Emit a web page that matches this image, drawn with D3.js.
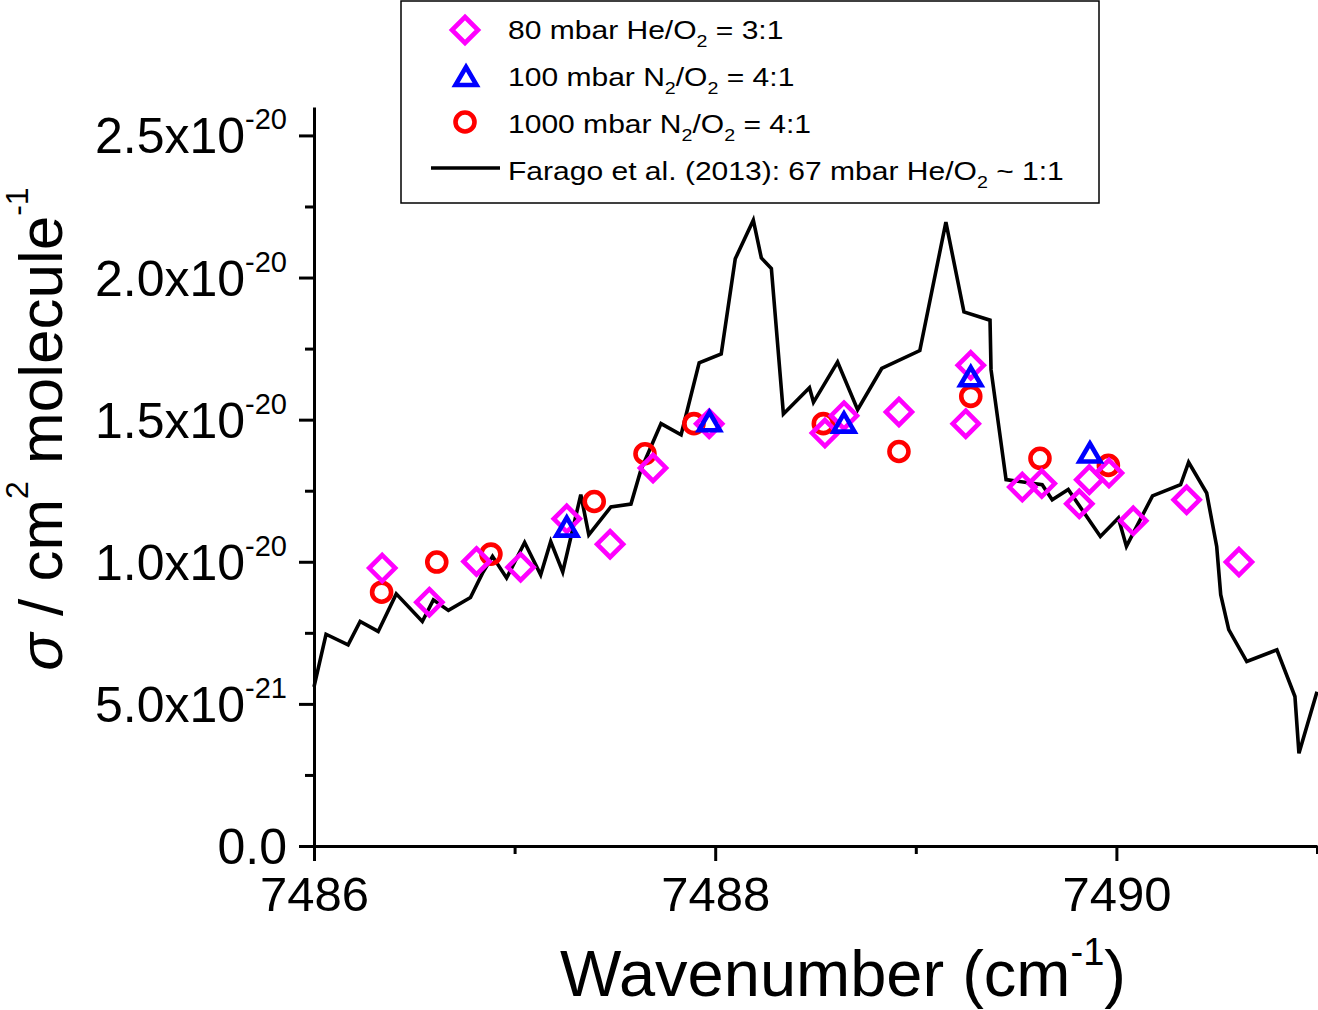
<!DOCTYPE html>
<html>
<head>
<meta charset="utf-8">
<script src="https://cdn.jsdelivr.net/npm/d3@7"></script>
<style>
  body { margin: 0; background: #fff; }
  svg { display: block; }
  text { font-family: Arial, "Liberation Sans", sans-serif; fill: #000; }
</style>
</head>
<body>
<svg id="chart" width="1318" height="1010"></svg>
<script>
// cross sections are given in units of 1e-20 cm2 molecule-1

// Farago et al. (2013), 67 mbar He/O2 ~ 1:1
const faragoWn = [7486.00, 7486.06, 7486.17, 7486.23, 7486.32, 7486.41, 7486.54, 7486.595, 7486.67, 7486.78,
  7486.84, 7486.89, 7486.96, 7487.05, 7487.13, 7487.18, 7487.24, 7487.33, 7487.37, 7487.48,
  7487.58, 7487.63, 7487.73, 7487.83, 7487.92, 7488.03, 7488.10, 7488.19, 7488.23, 7488.28,
  7488.34, 7488.47, 7488.49, 7488.61, 7488.71, 7488.83, 7489.02, 7489.15, 7489.24, 7489.37,
  7489.375, 7489.45, 7489.63, 7489.68, 7489.76, 7489.92, 7490.01, 7490.05, 7490.18, 7490.32,
  7490.36, 7490.45, 7490.50, 7490.52, 7490.56, 7490.65, 7490.80, 7490.89, 7490.91, 7491.00]
const faragoSigma = [0.56, 0.745, 0.708, 0.79, 0.755, 0.887, 0.79, 0.866, 0.829, 0.874,
  0.96, 1.019, 0.943, 1.068, 0.954, 1.071, 0.964, 1.236, 1.095, 1.193,
  1.203, 1.324, 1.486, 1.447, 1.70, 1.731, 2.066, 2.202, 2.069, 2.032,
  1.52, 1.612, 1.561, 1.703, 1.535, 1.68, 1.743, 2.195, 1.879, 1.85,
  1.676, 1.289, 1.271, 1.218, 1.254, 1.089, 1.154, 1.054, 1.232, 1.271,
  1.35, 1.242, 1.054, 0.884, 0.761, 0.649, 0.69, 0.526, 0.326, 0.543]

// 80 mbar He/O2 = 3:1
const heWn = [7486.34, 7486.575, 7486.81, 7487.03, 7487.26, 7487.476, 7487.69, 7487.97, 7488.547, 7488.642,
  7488.916, 7489.249, 7489.274, 7489.531, 7489.628, 7489.815, 7489.865, 7489.963, 7490.084, 7490.35, 7490.611]
const heSigma = [0.978, 0.858, 1.001, 0.981, 1.151, 1.062, 1.33, 1.486, 1.453, 1.514,
  1.527, 1.486, 1.691, 1.263, 1.275, 1.204, 1.289, 1.312, 1.144, 1.218, 0.999]

// 100 mbar N2/O2 = 4:1
const n2LowWn = [7487.26, 7487.971, 7488.642, 7489.274, 7489.868]
const n2LowSigma = [1.127, 1.498, 1.493, 1.656, 1.388]

// 1000 mbar N2/O2 = 4:1
const n2HighWn = [7486.337, 7486.612, 7486.882, 7487.397, 7487.65, 7487.894, 7488.539, 7488.916, 7489.274, 7489.619, 7489.96]
const n2HighSigma = [0.893, 0.999, 1.027, 1.212, 1.38, 1.486, 1.486, 1.388, 1.582, 1.364, 1.339]

const xTicksMajor = [7486, 7488, 7490]
const xTicksMinor = [7487, 7489, 7491]
const yTicksMajor = [0, 0.5, 1.0, 1.5, 2.0, 2.5]
const yTickMantissa = ["0.0", "5.0x10", "1.0x10", "1.5x10", "2.0x10", "2.5x10"]
const yTickExponent = ["", "-21", "-20", "-20", "-20", "-20"]
const yTicksMinor = [0.25, 0.75, 1.25, 1.75, 2.25]

const legendLabels = [
  [["80 mbar He/O", 0], ["2", 1], [" = 3:1", 0]],
  [["100 mbar N", 0], ["2", 1], ["/O", 0], ["2", 1], [" = 4:1", 0]],
  [["1000 mbar N", 0], ["2", 1], ["/O", 0], ["2", 1], [" = 4:1", 0]],
  [["Farago et al. (2013): 67 mbar He/O", 0], ["2", 1], [" ~ 1:1", 0]]
]

const MAGENTA = "#ff00ff", BLUE = "#0000ff", RED = "#ff0000"
const MARK_W = 4.6

const svg = d3.select("#chart")
svg.append("rect").attr("width", 1318).attr("height", 1010).attr("fill", "#fff")

const x = d3.scaleLinear().domain([7486, 7491]).range([314, 1317])
const y = d3.scaleLinear().domain([0, 2.6]).range([846, 107])

// marker shapes
const diamondPath = "M0,-13L13,0L0,13L-13,0Z"
const trianglePath = "M0,-8L10.5,10L-10.5,10Z"

function drawMarkers(g, xs, ys, kind, color) {
  xs.forEach((wn, i) => {
    const px = x(wn), py = y(ys[i])
    if (kind === "circle") {
      g.append("circle").attr("cx", px).attr("cy", py).attr("r", 9.5)
        .attr("fill", "none").attr("stroke", color).attr("stroke-width", MARK_W)
    } else {
      g.append("path").attr("d", kind === "diamond" ? diamondPath : trianglePath)
        .attr("transform", `translate(${px},${py})`)
        .attr("fill", "none").attr("stroke", color).attr("stroke-width", MARK_W)
    }
  })
}

// Farago line
const line = d3.line().x((d, i) => x(faragoWn[i])).y(d => y(d))
svg.append("path")
  .attr("d", line(faragoSigma))
  .attr("fill", "none").attr("stroke", "#000").attr("stroke-width", 3.6)
  .attr("stroke-linejoin", "miter")

const marks = svg.append("g")
drawMarkers(marks, n2HighWn, n2HighSigma, "circle", RED)
drawMarkers(marks, heWn, heSigma, "diamond", MAGENTA)
drawMarkers(marks, n2LowWn, n2LowSigma, "triangle", BLUE)

// x axis
const xAxis = svg.append("g").attr("transform", `translate(0,${y(0)})`)
xAxis.call(d3.axisBottom(x).tickValues(xTicksMajor).tickSize(15).tickSizeOuter(0).tickFormat(d3.format("d")))
xAxis.append("g").call(d3.axisBottom(x).tickValues(xTicksMinor).tickSize(8).tickSizeOuter(0).tickFormat(""))
  .select(".domain").remove()
xAxis.selectAll("path, line").attr("stroke", "#000").attr("stroke-width", 3)
xAxis.selectAll("text").attr("font-size", 49).attr("y", 65).attr("dy", 0).attr("fill", "#000")
  .attr("font-family", "Arial, 'Liberation Sans', sans-serif")

// y axis
const yAxis = svg.append("g").attr("transform", `translate(${x(7486)},0)`)
yAxis.call(d3.axisLeft(y).tickValues(yTicksMajor).tickSize(15).tickSizeOuter(0).tickFormat(""))
yAxis.append("g").call(d3.axisLeft(y).tickValues(yTicksMinor).tickSize(9).tickSizeOuter(0).tickFormat(""))
  .select(".domain").remove()
yAxis.selectAll("path, line").attr("stroke", "#000").attr("stroke-width", 3)

const yLabels = svg.append("g")
yTicksMajor.forEach((v, i) => {
  const t = yLabels.append("text")
    .attr("x", 287).attr("y", y(v) + 18)
    .attr("text-anchor", "end").attr("font-size", 50)
  t.append("tspan").text(yTickMantissa[i])
  if (yTickExponent[i]) {
    t.append("tspan").attr("font-size", 29).attr("dy", -24).text(yTickExponent[i])
  }
})

// axis titles
const xTitle = svg.append("text")
  .attr("x", 843).attr("y", 996)
  .attr("text-anchor", "middle").attr("font-size", 65)
xTitle.append("tspan").text("Wavenumber (cm")
xTitle.append("tspan").attr("font-size", 38).attr("dy", -31).text("-1")
xTitle.append("tspan").attr("dy", 31).text(")")

const yTitle = svg.append("text")
  .attr("transform", "translate(62,429) rotate(-90)")
  .attr("text-anchor", "middle").attr("font-size", 62)
yTitle.append("tspan").attr("font-style", "italic").text("σ")
yTitle.append("tspan").text(" / cm")
yTitle.append("tspan").attr("font-size", 32).attr("dy", -34).text("2")
yTitle.append("tspan").attr("dy", 34).text(" molecule")
yTitle.append("tspan").attr("font-size", 32).attr("dy", -34).text("-1")

// legend
const legend = svg.append("g")
legend.append("rect")
  .attr("x", 401).attr("y", 1).attr("width", 698).attr("height", 202)
  .attr("fill", "#fff").attr("stroke", "#000").attr("stroke-width", 1.5)

const legendRows = [39, 86, 133, 180]
legend.append("path").attr("d", diamondPath).attr("transform", "translate(465,30)")
  .attr("fill", "none").attr("stroke", MAGENTA).attr("stroke-width", MARK_W)
legend.append("path").attr("d", trianglePath).attr("transform", "translate(466,75)")
  .attr("fill", "none").attr("stroke", BLUE).attr("stroke-width", MARK_W)
legend.append("circle").attr("cx", 465).attr("cy", 122).attr("r", 9.5)
  .attr("fill", "none").attr("stroke", RED).attr("stroke-width", MARK_W)
legend.append("line").attr("x1", 431).attr("x2", 500).attr("y1", 168).attr("y2", 168)
  .attr("stroke", "#000").attr("stroke-width", 3.6)

legendLabels.forEach((parts, i) => {
  const t = legend.append("text")
    .attr("transform", `translate(508,${legendRows[i]}) scale(1.155,1)`)
    .attr("font-size", 26)
  let shifted = false
  parts.forEach(([str, sub]) => {
    const ts = t.append("tspan").text(str)
    if (sub) {
      ts.attr("font-size", 17).attr("dy", shifted ? 0 : 8)
      shifted = true
    } else {
      if (shifted) ts.attr("dy", -8)
      shifted = false
    }
  })
})
</script>
</body>
</html>
